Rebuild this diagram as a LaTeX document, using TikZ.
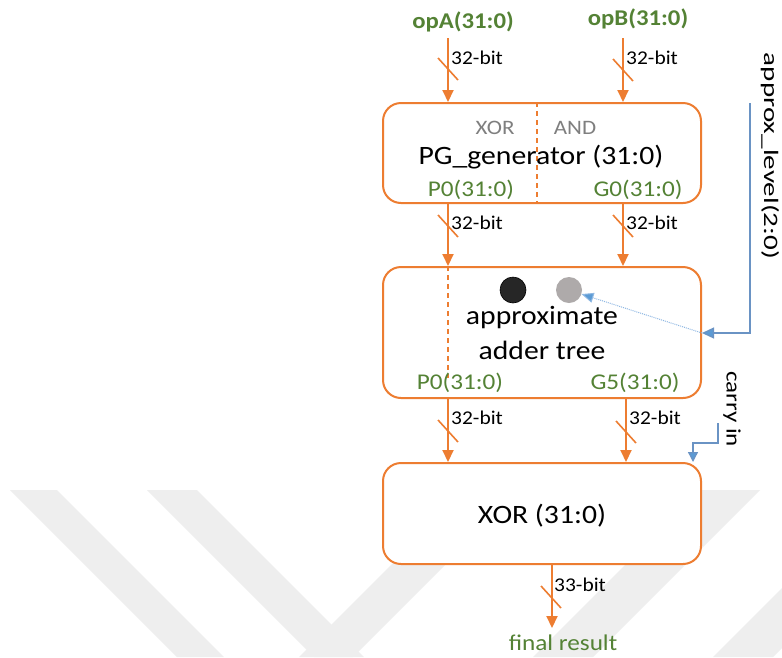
\documentclass[tikz,border=0pt]{standalone}
\usepackage{fontspec}
\setmainfont{Carlito}
\usetikzlibrary{arrows.meta}

\definecolor{accOrange}{HTML}{ED7D31}
\definecolor{sigGreen}{HTML}{548235}
\definecolor{ctlBlue}{HTML}{5B9BD5}
\definecolor{ctlLine}{HTML}{6A93C4}
\definecolor{dotBlue}{HTML}{8FB8E3}
\definecolor{opGray}{HTML}{7F7F7F}
\definecolor{dotFill}{HTML}{AEAAAA}
\definecolor{darkFill}{HTML}{262626}
\definecolor{markGray}{HTML}{EEEEEE}

% horizontal stretch of a piece of text
\newcommand\hsx[2]{\scalebox{#1}[1]{#2}}

\begin{document}
\begin{tikzpicture}[x=1pt,y=-1pt,
  block/.style={draw=accOrange, line width=2pt, rounded corners=18pt, fill=white,
    minimum width=318pt, inner sep=0pt},
  maintxt/.style={font=\fontsize{26.5}{30}\selectfont, inner sep=0pt, text=black},
  optxt/.style={font=\fontsize{20.5}{24}\selectfont, inner sep=0pt, text=opGray},
  sigtxt/.style={font=\fontsize{22.5}{26}\selectfont, inner sep=0pt, text=sigGreen},
  bittxt/.style={font=\fontsize{19.5}{23}\selectfont, inner sep=0pt, anchor=west, text=black},
  sidetxt/.style={font=\fontsize{20.5}{24}\selectfont, inner sep=0pt, rotate=-90, text=black},
  busarrow/.style={draw=accOrange, line width=2pt, -{Triangle[length=12pt,width=11pt]}},
  busslash/.style={draw=accOrange, line width=1.6pt},
  divider/.style={draw=accOrange, line width=1.6pt, dash pattern=on 5pt off 4pt},
  ctlarrow/.style={draw=ctlLine, line width=1.3pt, -{Triangle[length=12pt,width=11pt,fill=ctlBlue]}},
  carryarrow/.style={draw=ctlLine, line width=1.3pt, -{Triangle[length=10pt,width=10pt,fill=ctlBlue]}},
  selarrow/.style={draw=dotBlue, line width=1pt, densely dotted, -{Triangle[length=12pt,width=10pt,fill=ctlBlue]}},
]
\useasboundingbox (0,0) rectangle (782,657);
\fill[white] (0,0) rectangle (782,657);

% background chevron pattern
\begin{scope}
\clip (0,0) rectangle (782,657);
\fill[markGray] (10,490) -- (57,490) -- (224,657) -- (177,657) -- cycle;
\fill[markGray] (147,490) -- (197,490) -- (364,657) -- (314,657) -- cycle;
\fill[markGray] (466,490) -- (520,490) -- (353,657) -- (299,657) -- cycle;
\fill[markGray] (700,490) -- (760,490) -- (593,657) -- (533,657) -- cycle;
\fill[markGray] (810,560) -- (870,560) -- (773,657) -- (713,657) -- cycle;
\end{scope}

% ---------------- blocks ----------------
\node[block, minimum height=100pt] (pg) at (542,153) {};
\node[block, minimum height=131pt] (tree) at (542,332.5) {};
\node[block, minimum height=101pt] (xr) at (542,513.5) {};

% PG generator contents
\coordinate (div) at (537,153);
\draw[divider] (pg.north -| div) -- (pg.south -| div);
\node[optxt] (xorop) at (495,128) {\hsx{1.12}{XOR}};
\node[optxt] (andop) at (575,128) {\hsx{1.12}{AND}};
\node[maintxt] (pgname) at (541,157) {\hsx{1.12}{PG\_generator (31:0)}};
\node[sigtxt] (p0a) at (471,190) {\hsx{1.12}{P0(31:0)}};
\node[sigtxt] (g0) at (638,190) {\hsx{1.12}{G0(31:0)}};

% adder tree contents
\coordinate (pass) at (448,378);
\draw[divider] (tree.north -| pass) -- (pass);
\node[circle, fill=darkFill, draw=black, line width=0.6pt, minimum size=26pt, inner sep=0pt] (lvlA) at (513,290) {};
\node[circle, fill=dotFill, minimum size=26pt, inner sep=0pt] (lvlB) at (569,290) {};
\node[maintxt] (apx) at (542,318) {\hsx{1.12}{approximate}};
\node[maintxt] (adt) at (542,350) {\hsx{1.12}{adder tree}};
\node[sigtxt] (p0b) at (460,383) {\hsx{1.12}{P0(31:0)}};
\node[sigtxt] (g5) at (635,383) {\hsx{1.12}{G5(31:0)}};

% final XOR contents
\node[maintxt] (xrname) at (542,516) {\hsx{1.12}{XOR (31:0)}};

% ---------------- operands ----------------
\node[sigtxt, font=\fontsize{22.5}{26}\selectfont\bfseries] (opa) at (463,22) {\hsx{1.1}{opA(31:0)}};
\node[sigtxt, font=\fontsize{22.5}{26}\selectfont\bfseries] (opb) at (638,19) {\hsx{1.1}{opB(31:0)}};
\coordinate (ina) at (448,38);
\coordinate (inb) at (623,38);
\draw[busarrow] (ina) -- (ina |- pg.north);
\draw[busarrow] (inb) -- (inb |- pg.north);

% ---------------- buses between blocks ----------------
\coordinate (colP) at (448,0);
\coordinate (colG) at (623,0);
\coordinate (colS) at (626,0);
\draw[busarrow] (pg.south -| colP) -- (tree.north -| colP);
\draw[busarrow] (pg.south -| colG) -- (tree.north -| colG);
\draw[busarrow] (tree.south -| colP) -- (xr.north -| colP);
\draw[busarrow] (tree.south -| colS) -- (xr.north -| colS);

% result
\node[sigtxt] (res) at (563,643) {\hsx{1.12}{final result}};
\coordinate (outtip) at (552,628);
\draw[busarrow] (xr.south -| outtip) -- (outtip);

% bus width marks
\foreach \n/\cx/\cy in {s1/448/69, s2/623/70, s3/448/226, s4/623/226, s5/448/431, s6/626/432, s7/551/597}
  \coordinate (\n) at (\cx,\cy);
\foreach \n in {s1,s2,s3,s4,s5,s6,s7}
  \draw[busslash] ([shift={(-10,-11)}]\n) -- ([shift={(10,11)}]\n);

\node[bittxt] (b1) at (451,58) {\hsx{1.1}{32-bit}};
\node[bittxt] (b2) at (626,58) {\hsx{1.1}{32-bit}};
\node[bittxt] (b3) at (451,223) {\hsx{1.1}{32-bit}};
\node[bittxt] (b4) at (626,223) {\hsx{1.1}{32-bit}};
\node[bittxt] (b5) at (451,418) {\hsx{1.1}{32-bit}};
\node[bittxt] (b6) at (629,418) {\hsx{1.1}{32-bit}};
\node[bittxt] (b7) at (554,585) {\hsx{1.1}{33-bit}};

% ---------------- control inputs ----------------
\node[sidetxt] (lvl) at (770,156) {\hsx{1.42}{approx\_level(2:0)}};
\coordinate (lv1) at (750,103);
\coordinate (lv2) at (750,333);
\draw[ctlarrow] (lv1) -- (lv2) -- (tree.east |- lv2);
\draw[selarrow] (tree.east |- lv2) -- (lvlB);

\node[sidetxt] (cin) at (732,409) {\hsx{1.22}{carry in}};
\coordinate (ci1) at (718,423);
\coordinate (ci2) at (693,443);
\draw[carryarrow] (ci1) -- (ci1 |- ci2) -- (ci2) -- (ci2 |- xr.north);
\end{tikzpicture}
\end{document}
